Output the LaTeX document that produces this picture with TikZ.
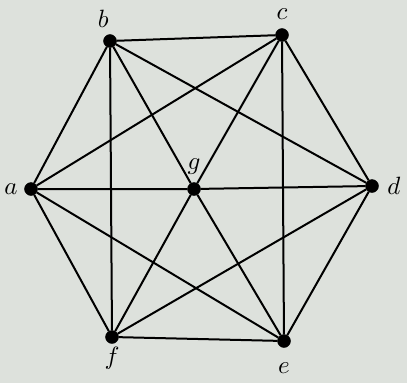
\documentclass[tikz,border=0pt]{standalone}
\usepackage{amssymb,amsmath}
\usepackage{graphicx}
\usepackage{tikz}
\definecolor{paper}{RGB}{221,225,220}
\newcommand{\vname}[1]{\scalebox{2.5}{$#1$}}

\begin{document}
\begin{tikzpicture}[x=1pt,y=-1pt,
        vertex/.style={circle,draw,fill=black,minimum size=13pt,inner sep=0pt},
        lab/.style={inner sep=0pt}]

    \fill[paper] (0,0) rectangle (407,383);
    \useasboundingbox (0,0) rectangle (407,383);

    \node[vertex,label={[lab,label distance=6.5pt]95:\vname{b}}] (b) at (110,41) {};
    \node[vertex,label={[lab,label distance=8.5pt]above:\vname{c}}] (c) at (282,35) {};
    \node[vertex,label={[lab,label distance=6.5pt]left:\vname{a}}] (a) at (31,189) {};
    \node[vertex,label={[lab,label distance=7.5pt]above:\vname{g}}] (g) at (194,189) {};
    \node[vertex,label={[lab,label distance=8.5pt]right:\vname{d}}] (d) at (372,186) {};
    \node[vertex,label={[lab,label distance=15pt]below:\vname{e}}] (e) at (284,341) {};
    \node[vertex,label={[lab,label distance=3.5pt]below:\vname{f}}] (f) at (112,337) {};

    \draw[line width=2pt] (a) -- (b) -- (c) -- (d) -- (e) -- (f) -- (a);
    \draw[line width=2pt] (a) -- (c) -- (e) -- (a);
    \draw[line width=2pt] (b) -- (d) -- (f) -- (b);
    \draw[line width=2pt] (a) -- (g) -- (d);
    \draw[line width=2pt] (b) -- (g) -- (e);
    \draw[line width=2pt] (c) -- (g) -- (f);
    \end{tikzpicture}
\end{document}
